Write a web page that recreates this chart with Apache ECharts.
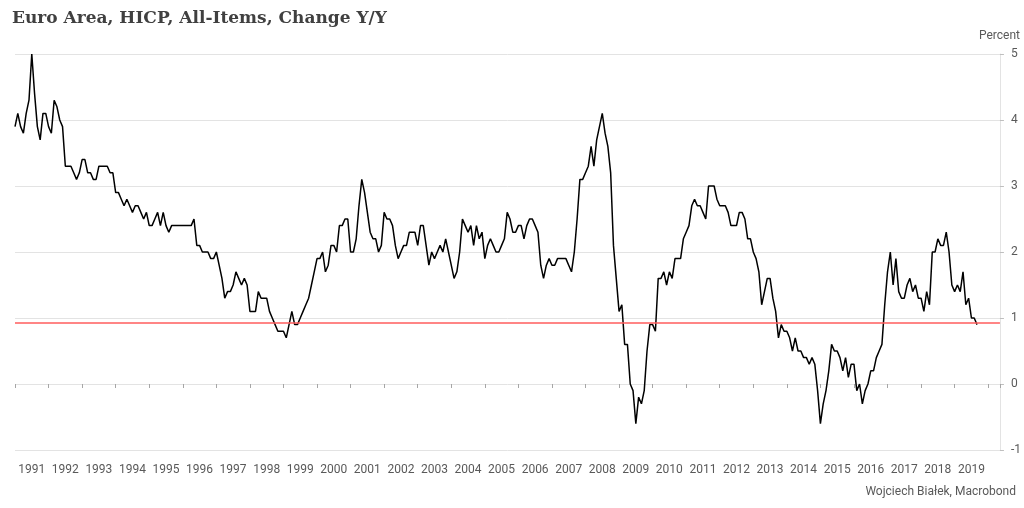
<!DOCTYPE html>
<html>
<head>
<meta charset="utf-8">
<script src="https://cdn.jsdelivr.net/npm/echarts@6/dist/echarts.min.js"></script>
<style>html,body{margin:0;padding:0;background:#fff;}#c{width:1024px;height:508px;}</style>
</head>
<body>
<div id="c"></div>
<script>
// Euro Area HICP y/y, monthly from Jan 1991 to Sep 2019
const startYear = 1991;
const hicp1991_1995 = [
  3.9, 4.1, 3.9, 3.8, 4.1, 4.3, 5.0, 4.4, 3.9, 3.7, 4.1, 4.1,
  3.9, 3.8, 4.3, 4.2, 4.0, 3.9, 3.3, 3.3, 3.3, 3.2, 3.1, 3.2,
  3.4, 3.4, 3.2, 3.2, 3.1, 3.1, 3.3, 3.3, 3.3, 3.3, 3.2, 3.2,
  2.9, 2.9, 2.8, 2.7, 2.8, 2.7, 2.6, 2.7, 2.7, 2.6, 2.5, 2.6,
  2.4, 2.4, 2.5, 2.6, 2.4, 2.6, 2.4, 2.3, 2.4, 2.4, 2.4, 2.4
];
const hicp1996_2000 = [
  2.4, 2.4, 2.4, 2.4, 2.5, 2.1, 2.1, 2.0, 2.0, 2.0, 1.9, 1.9,
  2.0, 1.8, 1.6, 1.3, 1.4, 1.4, 1.5, 1.7, 1.6, 1.5, 1.6, 1.5,
  1.1, 1.1, 1.1, 1.4, 1.3, 1.3, 1.3, 1.1, 1.0, 0.9, 0.8, 0.8,
  0.8, 0.7, 0.9, 1.1, 0.9, 0.9, 1.0, 1.1, 1.2, 1.3, 1.5, 1.7,
  1.9, 1.9, 2.0, 1.7, 1.8, 2.1, 2.1, 2.0, 2.4, 2.4, 2.5, 2.5
];
const hicp2001_2005 = [
  2.0, 2.0, 2.2, 2.7, 3.1, 2.9, 2.6, 2.3, 2.2, 2.2, 2.0, 2.1,
  2.6, 2.5, 2.5, 2.4, 2.1, 1.9, 2.0, 2.1, 2.1, 2.3, 2.3, 2.3,
  2.1, 2.4, 2.4, 2.1, 1.8, 2.0, 1.9, 2.0, 2.1, 2.0, 2.2, 2.0,
  1.8, 1.6, 1.7, 2.0, 2.5, 2.4, 2.3, 2.4, 2.1, 2.4, 2.2, 2.3,
  1.9, 2.1, 2.2, 2.1, 2.0, 2.0, 2.1, 2.2, 2.6, 2.5, 2.3, 2.3
];
const hicp2006_2010 = [
  2.4, 2.4, 2.2, 2.4, 2.5, 2.5, 2.4, 2.3, 1.8, 1.6, 1.8, 1.9,
  1.8, 1.8, 1.9, 1.9, 1.9, 1.9, 1.8, 1.7, 2.0, 2.5, 3.1, 3.1,
  3.2, 3.3, 3.6, 3.3, 3.7, 3.9, 4.1, 3.8, 3.6, 3.2, 2.1, 1.6,
  1.1, 1.2, 0.6, 0.6, 0.0, -0.1, -0.6, -0.2, -0.3, -0.1, 0.5, 0.9,
  0.9, 0.8, 1.6, 1.6, 1.7, 1.5, 1.7, 1.6, 1.9, 1.9, 1.9, 2.2
];
const hicp2011_2015 = [
  2.3, 2.4, 2.7, 2.8, 2.7, 2.7, 2.6, 2.5, 3.0, 3.0, 3.0, 2.8,
  2.7, 2.7, 2.7, 2.6, 2.4, 2.4, 2.4, 2.6, 2.6, 2.5, 2.2, 2.2,
  2.0, 1.9, 1.7, 1.2, 1.4, 1.6, 1.6, 1.3, 1.1, 0.7, 0.9, 0.8,
  0.8, 0.7, 0.5, 0.7, 0.5, 0.5, 0.4, 0.4, 0.3, 0.4, 0.3, -0.1,
  -0.6, -0.3, -0.1, 0.2, 0.6, 0.5, 0.5, 0.4, 0.2, 0.4, 0.1, 0.3
];
const hicp2016_2019 = [
  0.3, -0.1, 0.0, -0.3, -0.1, 0.0, 0.2, 0.2, 0.4, 0.5, 0.6, 1.2,
  1.7, 2.0, 1.5, 1.9, 1.4, 1.3, 1.3, 1.5, 1.6, 1.4, 1.5, 1.3,
  1.3, 1.1, 1.4, 1.2, 2.0, 2.0, 2.2, 2.1, 2.1, 2.3, 2.0, 1.5,
  1.4, 1.5, 1.4, 1.7, 1.2, 1.3, 1.0, 1.0, 0.9
];
const referenceLevel = 0.93;
const yTicks = [-1, 0, 1, 2, 3, 4, 5];
const lastYearLabel = 2019;

const values = [].concat(hicp1991_1995, hicp1996_2000, hicp2001_2005, hicp2006_2010, hicp2011_2015, hicp2016_2019);
const seriesData = values.map((v, i) => [startYear + i / 12, v]);

const labelFont = "Roboto, 'Open Sans', sans-serif";
const chart = echarts.init(document.getElementById('c'), null, {renderer: 'canvas'});
chart.setOption({
  animation: false,
  backgroundColor: '#ffffff',
  title: {
    text: 'Euro Area, HICP, All-Items, Change Y/Y',
    left: 7, top: 5,
    textStyle: {fontFamily: "'DejaVu Serif', serif", fontWeight: 'bold', fontSize: 17, color: '#404040'}
  },
  graphic: [
    {type: 'text', right: 4, top: 30, style: {text: 'Percent', font: "12px " + labelFont, fill: '#595959'}},
    {type: 'text', right: 8, top: 486, style: {text: 'Wojciech Białek, Macrobond', font: "12px 'Liberation Sans Narrow', " + labelFont, fill: '#595959'}}
  ],
  grid: {left: 15, right: 24, top: 54, bottom: 58},
  xAxis: {
    type: 'value',
    min: startYear, max: 2020.35, interval: 1,
    offset: 8,
    axisLine: {show: false},
    axisTick: {show: true, length: 4, lineStyle: {color: '#a6a6a6'}},
    splitLine: {show: false},
    axisLabel: {
      margin: 6,
      color: '#595959', fontFamily: labelFont, fontSize: 12,
      padding: [0, 0, 0, 33.5],
      formatter: v => (v <= lastYearLabel && Number.isInteger(v)) ? String(v) : ''
    }
  },
  yAxis: {
    type: 'value', position: 'right',
    min: yTicks[0], max: yTicks[yTicks.length - 1], interval: 1,
    axisLine: {show: true, lineStyle: {color: '#e3e3e3'}},
    axisTick: {show: true, length: 4, lineStyle: {color: '#bfbfbf'}},
    splitLine: {lineStyle: {color: '#e3e3e3'}},
    axisLabel: {margin: 11, color: '#595959', fontFamily: labelFont, fontSize: 12}
  },
  series: [{
    type: 'line',
    data: seriesData,
    showSymbol: false,
    lineStyle: {color: '#000000', width: 1.5},
    markLine: {
      silent: true, symbol: 'none', label: {show: false},
      lineStyle: {color: '#ff5c5c', width: 1.5, type: 'solid'},
      data: [{yAxis: referenceLevel}]
    }
  }]
});
</script>
</body>
</html>
